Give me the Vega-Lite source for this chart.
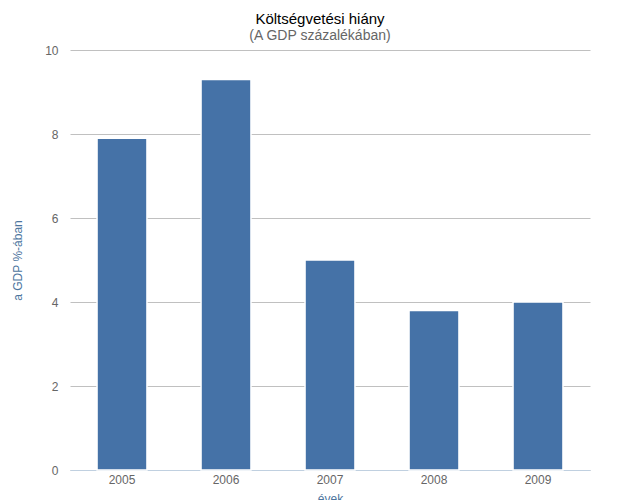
{
  "$schema": "https://vega.github.io/schema/vega-lite/v6.json",
  "autosize": "none",
  "width": 520,
  "height": 420,
  "padding": {"left": 70, "top": 50, "right": 50, "bottom": 30},
  "background": "white",
  "title": {
    "text": "Költségvetési hiány",
    "subtitle": "(A GDP százalékában)",
    "anchor": "middle",
    "dx": -10,
    "dy": 9,
    "frame": "group",
    "offset": 10,
    "font": "Liberation Sans",
    "fontSize": 15,
    "fontWeight": "normal",
    "color": "#000000",
    "subtitleFont": "Liberation Sans",
    "subtitleFontSize": 14,
    "subtitleColor": "#666666",
    "subtitlePadding": 2
  },
  "data": {
    "values": [
      {"ev": "2005", "hiany": 7.9},
      {"ev": "2006", "hiany": 9.3},
      {"ev": "2007", "hiany": 5.0},
      {"ev": "2008", "hiany": 3.8},
      {"ev": "2009", "hiany": 4.0}
    ]
  },
  "config": {
    "view": {"stroke": null},
    "font": "Liberation Sans"
  },
  "mark": {"type": "bar", "color": "#4572A7", "stroke": "white", "strokeWidth": 1.5},
  "encoding": {
    "x": {
      "field": "ev",
      "type": "nominal",
      "title": "évek",
      "scale": {"paddingInner": 0.52, "paddingOuter": 0.26},
      "axis": {
        "labelAngle": 0,
        "labelColor": "#666666",
        "labelFontSize": 12,
        "labelPadding": 4,
        "domainColor": "#C0D0E0",
        "ticks": false,
        "titleColor": "#4D759E",
        "titleFontSize": 12,
        "titleFontWeight": "normal",
        "titlePadding": 8
      }
    },
    "y": {
      "field": "hiany",
      "type": "quantitative",
      "title": "a GDP %-ában",
      "scale": {"domain": [0, 10]},
      "axis": {
        "values": [0, 2, 4, 6, 8, 10],
        "domain": false,
        "ticks": false,
        "gridColor": "#C0C0C0",
        "gridOpacity": 1,
        "labelColor": "#666666",
        "labelFontSize": 12,
        "labelPadding": 12,
        "titleColor": "#4D759E",
        "titleFontSize": 12,
        "titleFontWeight": "normal",
        "titlePadding": 20
      }
    }
  }
}
